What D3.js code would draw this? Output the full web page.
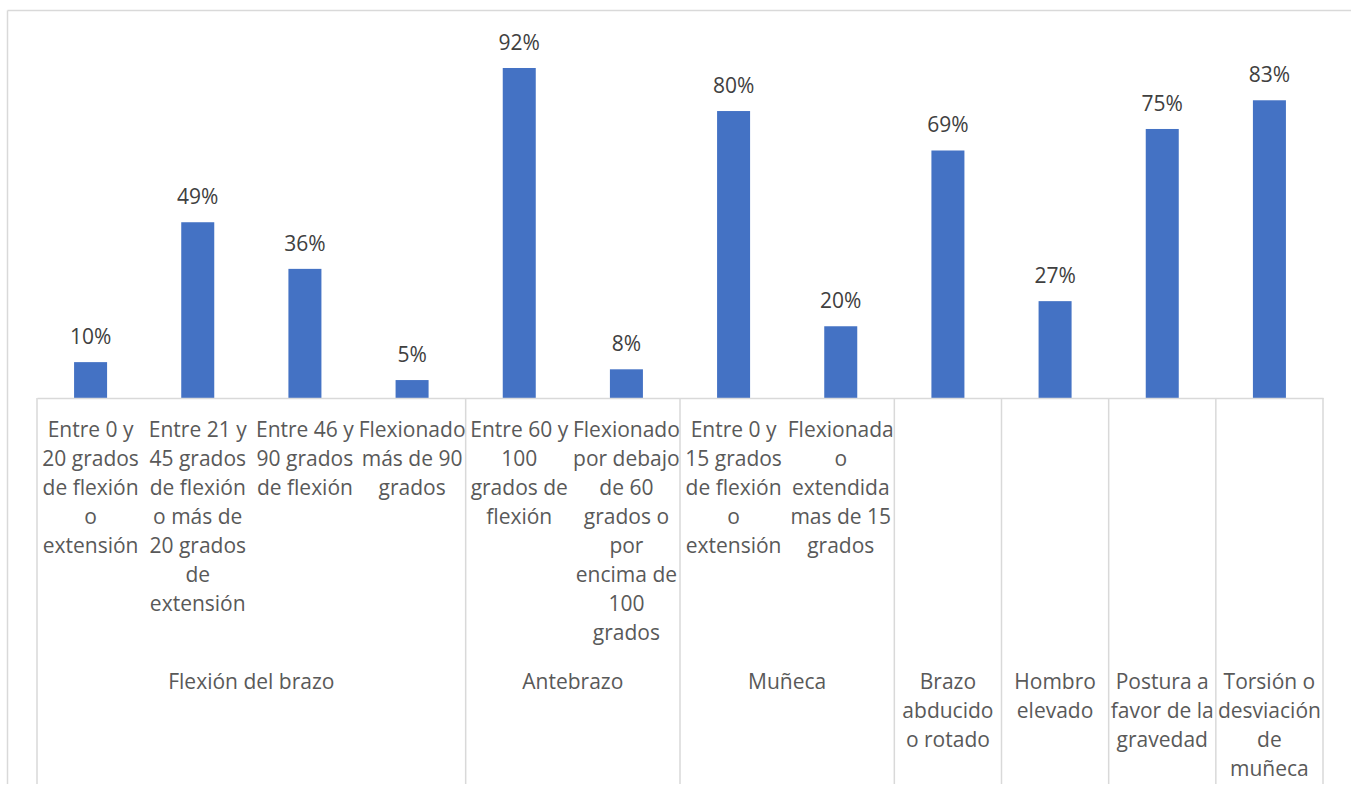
<!DOCTYPE html>
<html>
<head>
<meta charset="utf-8">
<script src="https://cdn.jsdelivr.net/npm/d3@7"></script>
<style>
  html, body { margin: 0; padding: 0; background: #fff; }
  svg { display: block; font-family: "Open Sans", sans-serif; }
</style>
</head>
<body>
<svg id="chart" width="1351" height="788"></svg>
<script>
// ---- data ----
const subLabels = [
  "Entre 0 y\n20 grados\nde flexión\no\nextensión",
  "Entre 21 y\n45 grados\nde flexión\no más de\n20 grados\nde\nextensión",
  "Entre 46 y\n90 grados\nde flexión",
  "Flexionado\nmás de 90\ngrados",
  "Entre 60 y\n100\ngrados de\nflexión",
  "Flexionado\npor debajo\nde 60\ngrados o\npor\nencima de\n100\ngrados",
  "Entre 0 y\n15 grados\nde flexión\no\nextensión",
  "Flexionada\no\nextendida\nmas de 15\ngrados",
  "", "", "", ""
];
const groupOf = [0, 0, 0, 0, 1, 1, 2, 2, 3, 4, 5, 6];
const groupLabels = [
  "Flexión del brazo",
  "Antebrazo",
  "Muñeca",
  "Brazo\nabducido\no rotado",
  "Hombro\nelevado",
  "Postura a\nfavor de la\ngravedad",
  "Torsión o\ndesviación\nde\nmuñeca"
];
const values = [0.10, 0.49, 0.36, 0.05, 0.92, 0.08, 0.80, 0.20, 0.69, 0.27, 0.75, 0.83];

// ---- layout ----
const svg = d3.select("#chart");
const plotLeft = 37, plotRight = 1323, baseY = 398, topY = 39.3;
const gridColor = "#d9d9d9";

const idx = values.map((_, i) => i);
const x = d3.scaleBand().domain(idx).range([plotLeft, plotRight]).padding(0);
const y = d3.scaleLinear().domain([0, 1]).range([baseY, topY]);
const barW = x.bandwidth() * 0.308;

// outer chart border (cropped)
svg.append("line").attr("x1", 7.5).attr("x2", 1351).attr("y1", 10.5).attr("y2", 10.5)
  .attr("stroke", gridColor).attr("stroke-width", 1.5);
svg.append("line").attr("x1", 7.5).attr("x2", 7.5).attr("y1", 10.5).attr("y2", 784)
  .attr("stroke", gridColor).attr("stroke-width", 1.5);

// bars
svg.append("g").selectAll("rect").data(values).join("rect")
  .attr("x", (d, i) => x(i) + (x.bandwidth() - barW) / 2)
  .attr("y", d => y(d))
  .attr("width", barW)
  .attr("height", d => baseY - y(d))
  .attr("fill", "#4472C4");

// data labels
const fmt = d3.format(".0%");
svg.append("g").selectAll("text").data(values).join("text")
  .attr("x", (d, i) => x(i) + x.bandwidth() / 2)
  .attr("y", d => y(d) - 18)
  .attr("text-anchor", "middle")
  .attr("font-size", 21)
  .attr("fill", "#404040")
  .text(d => fmt(d));

// category axis line
const axis = d3.axisBottom(x).tickSize(0).tickFormat("");
const axG = svg.append("g").attr("transform", `translate(0,${baseY})`).call(axis);
axG.select(".domain").attr("stroke", gridColor).attr("stroke-width", 1.5);

// group separators
const groups = d3.groups(idx, i => groupOf[i]);
const bounds = new Set([plotLeft]);
groups.forEach(([g, list]) => bounds.add(x(list[list.length - 1]) + x.bandwidth()));
svg.append("g").selectAll("line").data([...bounds]).join("line")
  .attr("x1", d => d).attr("x2", d => d)
  .attr("y1", baseY).attr("y2", 784)
  .attr("stroke", gridColor).attr("stroke-width", 1.5);

// multi-line text helper
function multi(sel, str, cx, y0, lh) {
  const t = sel.append("text").attr("text-anchor", "middle")
    .attr("font-size", 21).attr("fill", "#595959");
  str.split("\n").forEach((ln, k) => {
    if (ln === "") return;
    t.append("tspan").attr("x", cx).attr("y", y0 + k * lh).text(ln);
  });
}

const lblG = svg.append("g");
subLabels.forEach((s, i) => {
  if (s) multi(lblG, s, x(i) + x.bandwidth() / 2, 437, 29);
});
groups.forEach(([g, list]) => {
  const x0 = x(list[0]), x1 = x(list[list.length - 1]) + x.bandwidth();
  multi(lblG, groupLabels[g], (x0 + x1) / 2, 689, 29);
});
</script>
</body>
</html>
